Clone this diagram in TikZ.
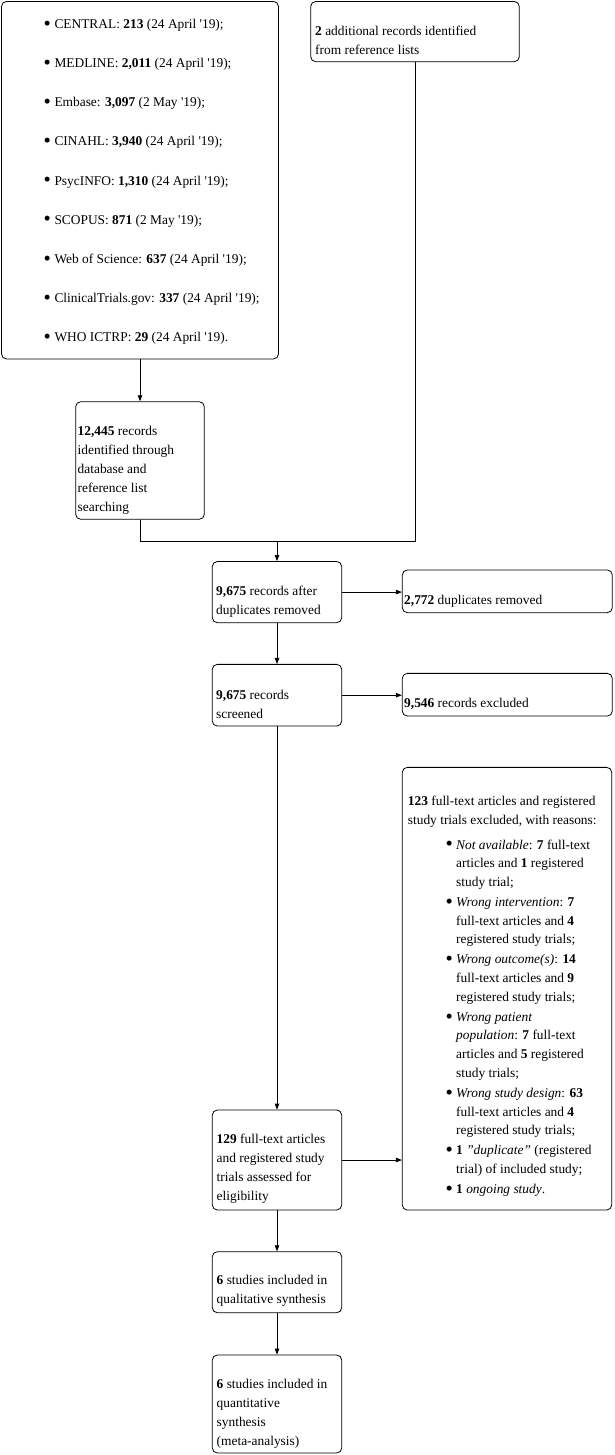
\documentclass[tikz,border=0pt]{standalone}
\usepackage{fontspec}
\setmainfont{Liberation Serif}
\usetikzlibrary{arrows.meta}
\newcommand{\bdot}[1]{\makebox[#1][l]{\raisebox{-0.14em}{\scalebox{1.55}{\textbullet}}}}
\begin{document}
\begin{tikzpicture}[x=1pt,y=-1pt,
  box/.style={draw, line width=0.8pt, rounded corners=5pt, inner sep=0pt},
  txt/.style={anchor=west, align=left, inner sep=0pt, font=\fontsize{13.4}{19}\selectfont},
  arr/.style={draw, line width=0.8pt, -{Triangle[length=6pt,width=4.5pt]}},
  ln/.style={draw, line width=0.8pt}]
\useasboundingbox (0,0) rectangle (615,1455);
% boxes
\node[box, minimum width=277pt, minimum height=357.5pt] (A) at (140,180.2) {};
\node[box, minimum width=208.6pt, minimum height=60.2pt] (B) at (415,31.6) {};
\node[box, minimum width=128.6pt, minimum height=117.6pt] (C) at (140,460.5) {};
\node[box, minimum width=129.4pt, minimum height=61.2pt] (D) at (277,592.1) {};
\node[box, minimum width=210pt, minimum height=42.7pt] (E) at (507.3,591.3) {};
\node[box, minimum width=129.4pt, minimum height=61.7pt] (F) at (277,695.2) {};
\node[box, minimum width=210pt, minimum height=42.7pt] (G) at (507.3,694.7) {};
\node[box, minimum width=129.4pt, minimum height=100pt] (H) at (277,1160) {};
\node[box, minimum width=209.4pt, minimum height=442.7pt] (I) at (507,988.7) {};
\node[box, minimum width=129.4pt, minimum height=61pt] (J) at (277,1282.2) {};
\node[box, minimum width=129.4pt, minimum height=98pt] (K) at (277,1404) {};
% texts
\node[txt, font=\fontsize{13.4}{39.1}\selectfont] (At) at (43.3,181.8) {%
\bdot{11pt}CENTRAL: \textbf{213} (24 April \textquotesingle19);\\
\bdot{11pt}MEDLINE: \textbf{2,011} (24 April \textquotesingle19);\\
\bdot{11pt}Embase: \textbf{3,097} (2 May \textquotesingle19);\\
\bdot{11pt}CINAHL: \textbf{3,940} (24 April \textquotesingle19);\\
\bdot{11pt}PsycINFO: \textbf{1,310} (24 April \textquotesingle19);\\
\bdot{11pt}SCOPUS: \textbf{871} (2 May \textquotesingle19);\\
\bdot{11pt}Web of Science: \textbf{637} (24 April \textquotesingle19);\\
\bdot{11pt}ClinicalTrials.gov: \textbf{337} (24 April \textquotesingle19);\\
\bdot{11pt}WHO ICTRP: \textbf{29} (24 April \textquotesingle19).};
\node[txt] (Bt) at (315,40.5) {\textbf{2} additional records identified\\from reference lists};
\node[txt] (Ct) at (77.5,469.9) {\textbf{12,445} records\\identified through\\database and\\reference list\\searching};
\node[txt] (Dt) at (216,601.5) {\textbf{9,675} records after\\duplicates removed};
\node[txt] (Et) at (404,601) {\textbf{2,772} duplicates removed};
\node[txt] (Ft) at (216,704.5) {\textbf{9,675} records\\screened};
\node[txt] (Gt) at (404,704) {\textbf{9,546} records excluded};
\node[txt] (Ht) at (216.5,1168.5) {\textbf{129} full-text articles\\and registered study\\trials assessed for\\eligibility};
\node[txt] (It) at (407.7,811.7) {\textbf{123} full-text articles and registered\\study trials excluded, with reasons:};
\node[txt, font=\fontsize{13.4}{18.7}\selectfont] (Il) at (445.5,1018) {%
\bdot{10.5pt}\textit{Not available}: \textbf{7} full-text\\
\hspace*{10.5pt}articles and \textbf{1} registered\\
\hspace*{10.5pt}study trial;\\[1.3pt]
\bdot{10.5pt}\textit{Wrong intervention}: \textbf{7}\\
\hspace*{10.5pt}full-text articles and \textbf{4}\\
\hspace*{10.5pt}registered study trials;\\[1.3pt]
\bdot{10.5pt}\textit{Wrong outcome(s)}: \textbf{14}\\
\hspace*{10.5pt}full-text articles and \textbf{9}\\
\hspace*{10.5pt}registered study trials;\\[1.3pt]
\bdot{10.5pt}\textit{Wrong patient}\\
\hspace*{10.5pt}\textit{population}: \textbf{7} full-text\\
\hspace*{10.5pt}articles and \textbf{5} registered\\
\hspace*{10.5pt}study trials;\\[1.3pt]
\bdot{10.5pt}\textit{Wrong study design}: \textbf{63}\\
\hspace*{10.5pt}full-text articles and \textbf{4}\\
\hspace*{10.5pt}registered study trials;\\[1.3pt]
\bdot{10.5pt}\textbf{1} \textit{\symbol{34}duplicate\symbol{34}} (registered\\
\hspace*{10.5pt}trial) of included study;\\[1.3pt]
\bdot{10.5pt}\textbf{1} \textit{ongoing study}.};
\node[txt] (Jt) at (216.5,1291.2) {\textbf{6} studies included in\\qualitative synthesis};
\node[txt] (Kt) at (216.5,1413.9) {\textbf{6} studies included in\\quantitative\\synthesis\\(meta-analysis)};
% connectors
\coordinate (j) at (277,541.5);
\draw[arr] (A.south) -- (A.south |- C.north);
\draw[ln] (C.south) |- (j);
\draw[ln] (B.south) |- (j);
\draw[arr] (j) -- (j |- D.north);
\draw[arr] (D.east) -- (D.east -| E.west);
\draw[arr] (D.south) -- (F.north);
\draw[arr] (F.east) -- (F.east -| G.west);
\draw[arr] (F.south) -- (H.north);
\draw[arr] (H.east) -- (H.east -| I.west);
\draw[arr] (H.south) -- (J.north);
\draw[arr] (J.south) -- (K.north);
\end{tikzpicture}
\end{document}
